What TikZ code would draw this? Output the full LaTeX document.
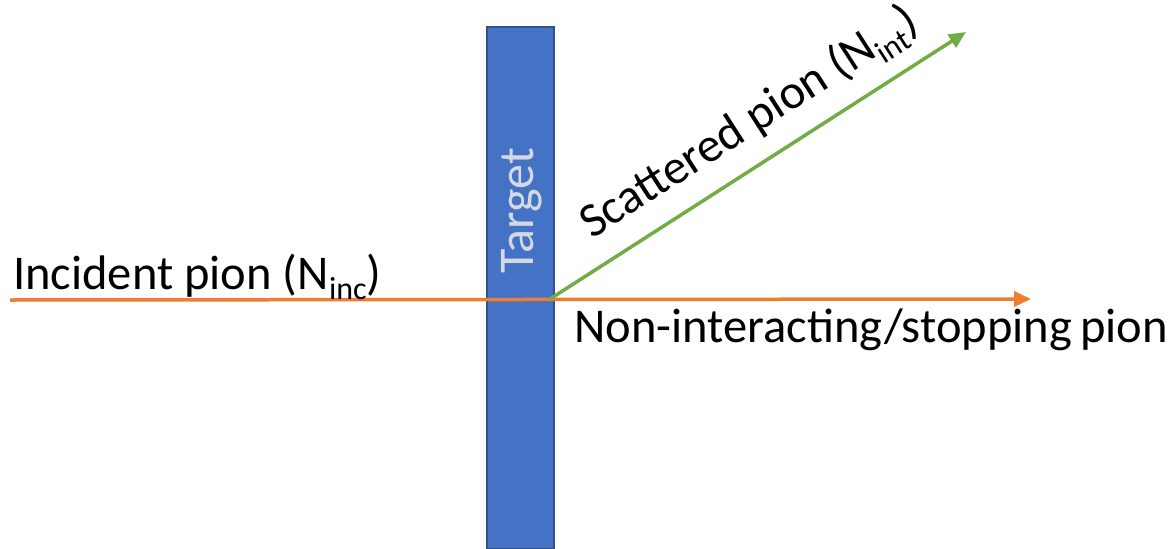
\documentclass[tikz,border=0pt]{standalone}
\usepackage{fontspec}
\setmainfont{Carlito}
\usetikzlibrary{arrows.meta}
\definecolor{tgtfill}{HTML}{4472C4}
\definecolor{tgtedge}{HTML}{2F528F}
\definecolor{beamorange}{HTML}{ED7D31}
\definecolor{scatgreen}{HTML}{70AD47}
\definecolor{tgttext}{HTML}{D3D8E2}
\newcommand{\lowidx}[1]{\raisebox{-0.22em}{\fontsize{32}{34}\selectfont #1}}
\tikzset{
  lbl/.style={inner sep=0pt, font=\fontsize{48.5}{54}\selectfont, text=black},
  beam/.style={line width=3.5pt, -{Triangle[length=17pt,width=15pt]}},
}
\begin{document}
\begin{tikzpicture}[x=1pt,y=-1pt]
\useasboundingbox (0,0) rectangle (1173,549);
% target slab
\node[draw=tgtedge, fill=tgtfill, line width=2.5pt, minimum width=67pt, minimum height=522pt, inner sep=0pt, anchor=north west] (target) at (485.5,25.5) {};
\node[inner sep=0pt, rotate=90, text=tgttext, font=\fontsize{50}{56}\selectfont] (tlabel) at (522,211) {Target};
% beam points
\coordinate (src) at (10,300);
\coordinate (hit) at (550,299);
\coordinate (fwd) at (1031,299);
\coordinate (scat) at (966,32);
\draw[beam, draw=beamorange, fill=beamorange] (src) -- (fwd);
\draw[beam, draw=scatgreen, fill=scatgreen] (hit) -- (scat);
% labels
\node[lbl, anchor=base west] (inc) at (13,289) {Incident pion (N\lowidx{inc})};
\node[lbl, anchor=base west] (non) at (574,342) {Non-interacting/stopping\,pion};
\node[lbl, anchor=base west, rotate=32.75] (sc) at (592,240) {Scattered pion (N\lowidx{int})};
\end{tikzpicture}
\end{document}
